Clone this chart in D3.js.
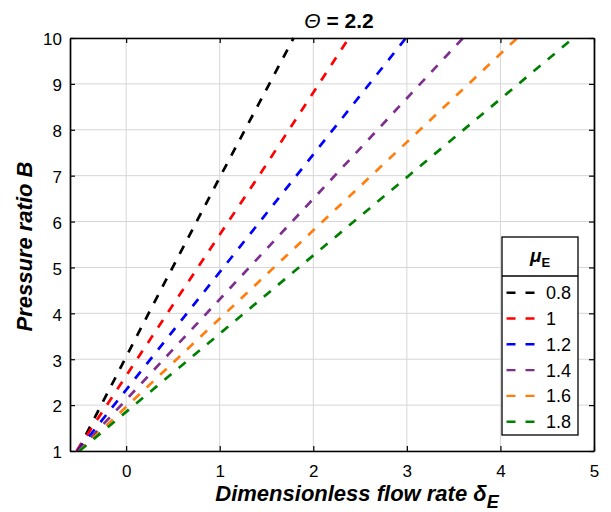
<!DOCTYPE html>
<html>
<head>
<meta charset="utf-8">
<script src="https://cdn.jsdelivr.net/npm/d3@7"></script>
<style>
  html, body { margin: 0; padding: 0; background: #fff; }
  svg text { font-family: "Liberation Sans", Arial, Helvetica, sans-serif; fill: #000; }
</style>
</head>
<body>
<svg id="chart" width="611" height="512"></svg>
<script>
// Pressure ratio B levels at which each curve's flow rate is sampled
const pressureLevels = [1, 4, 7, 10];

// Flow rate delta_E for each mu_E curve, at the pressure levels above
const muLabels = ["0.8", "1", "1.2", "1.4", "1.6", "1.8"];
const delta_mu08 = [-0.52, 0.24, 1.01, 1.79];
const delta_mu10 = [-0.53, 0.44, 1.42, 2.38];
const delta_mu12 = [-0.52, 0.65, 1.82, 2.99];
const delta_mu14 = [-0.51, 0.86, 2.23, 3.60];
const delta_mu16 = [-0.50, 1.06, 2.62, 4.18];
const delta_mu18 = [-0.50, 1.26, 3.02, 4.78];
const seriesColors = ["#000000", "#ff0000", "#0000ff", "#7e2f8e", "#ff7f0e", "#008000"];

const xTicks = [0, 1, 2, 3, 4, 5];
const yTicks = [1, 2, 3, 4, 5, 6, 7, 8, 9, 10];

const series = [delta_mu08, delta_mu10, delta_mu12, delta_mu14, delta_mu16, delta_mu18]
  .map((d, i) => ({
    label: muLabels[i],
    color: seriesColors[i],
    points: d.map((v, j) => ({ x: v, y: pressureLevels[j] }))
  }));

const svg = d3.select("#chart");
const plotLeft = 70, plotRight = 594, plotTop = 38, plotBottom = 451;

const x = d3.scaleLinear().domain([-0.6, 5]).range([plotLeft, plotRight]);
const y = d3.scaleLinear().domain([1, 10]).range([plotBottom, plotTop]);

// grid
const grid = svg.append("g");
grid.selectAll("line.vg").data(xTicks).enter().append("line")
  .attr("x1", d => x(d)).attr("x2", d => x(d))
  .attr("y1", plotTop).attr("y2", plotBottom)
  .attr("stroke", "#d6d6d6").attr("stroke-width", 1);
grid.selectAll("line.hg").data(yTicks).enter().append("line")
  .attr("x1", plotLeft).attr("x2", plotRight)
  .attr("y1", d => y(d)).attr("y2", d => y(d))
  .attr("stroke", "#d6d6d6").attr("stroke-width", 1);

// curves
svg.append("clipPath").attr("id", "plotClip")
  .append("rect").attr("x", plotLeft).attr("y", plotTop - 1)
  .attr("width", plotRight - plotLeft).attr("height", plotBottom - plotTop + 1);

const line = d3.line().x(d => x(d.x)).y(d => y(d.y));
svg.append("g").attr("clip-path", "url(#plotClip)")
  .selectAll("path").data(series).enter().append("path")
  .attr("d", d => line(d.points))
  .attr("fill", "none")
  .attr("stroke", d => d.color)
  .attr("stroke-width", 2.7)
  .attr("stroke-dasharray", "9,9.5");

// axes with inward ticks on all four sides
const tickLen = 5;
const axisBottom = svg.append("g").attr("transform", `translate(0,${plotBottom})`)
  .call(d3.axisBottom(x).tickValues(xTicks).tickFormat(d3.format("d"))
    .tickSizeInner(-tickLen).tickSizeOuter(0).tickPadding(14));
const axisTop = svg.append("g").attr("transform", `translate(0,${plotTop})`)
  .call(d3.axisTop(x).tickValues(xTicks).tickSizeInner(-tickLen).tickSizeOuter(0).tickFormat(""));
const axisLeft = svg.append("g").attr("transform", `translate(${plotLeft},0)`)
  .call(d3.axisLeft(y).tickValues(yTicks).tickFormat(d3.format("d"))
    .tickSizeInner(-tickLen).tickSizeOuter(0).tickPadding(8));
const axisRight = svg.append("g").attr("transform", `translate(${plotRight},0)`)
  .call(d3.axisRight(y).tickValues(yTicks).tickSizeInner(-tickLen).tickSizeOuter(0).tickFormat(""));

[axisBottom, axisTop, axisLeft, axisRight].forEach(g => {
  g.select(".domain").attr("stroke", "#000").attr("stroke-width", 1.7);
  g.selectAll(".tick line").attr("stroke", "#000").attr("stroke-width", 1.2);
  g.selectAll(".tick text").attr("font-size", 17)
    .attr("font-family", "'Liberation Sans', Arial, sans-serif").attr("fill", "#000");
});
axisBottom.selectAll(".tick text").attr("dy", "0.71em");
axisLeft.selectAll(".tick text").attr("dy", "0.4em");

// title
const title = svg.append("text").attr("x", 339).attr("y", 28)
  .attr("text-anchor", "middle").attr("font-size", 21).attr("font-weight", "bold");
title.append("tspan").attr("font-style", "italic").attr("font-weight", "normal").text("Θ");
title.append("tspan").text(" = 2.2");

// axis labels
const xl = svg.append("text").attr("x", 357).attr("y", 501)
  .attr("text-anchor", "middle").attr("font-size", 22)
  .attr("font-weight", "bold").attr("font-style", "italic");
xl.append("tspan").text("Dimensionless flow rate δ");
xl.append("tspan").attr("dy", 7).attr("font-size", 18).text("E");

svg.append("text")
  .attr("transform", `translate(32,${(plotTop + plotBottom) / 2 + 2}) rotate(-90)`)
  .attr("text-anchor", "middle").attr("font-size", 22)
  .attr("font-weight", "bold").attr("font-style", "italic")
  .text("Pressure ratio B");

// legend
const lg = svg.append("g");
const lgLeft = 502, lgRight = 578, lgTop = 237, lgBottom = 435, lgSep = 276;
lg.append("rect").attr("x", lgLeft).attr("y", lgTop)
  .attr("width", lgRight - lgLeft).attr("height", lgBottom - lgTop)
  .attr("fill", "#fff").attr("stroke", "#000").attr("stroke-width", 1.3);
lg.append("line").attr("x1", lgLeft).attr("x2", lgRight)
  .attr("y1", lgSep).attr("y2", lgSep).attr("stroke", "#000").attr("stroke-width", 1.3);
const lt = lg.append("text").attr("x", (lgLeft + lgRight) / 2).attr("y", 262)
  .attr("text-anchor", "middle").attr("font-size", 19)
  .attr("font-weight", "bold").attr("font-style", "italic");
lt.append("tspan").text("μ");
lt.append("tspan").attr("dy", 5).attr("font-size", 13).attr("font-style", "normal").text("E");

const rowY = d3.scaleLinear().domain([0, series.length - 1]).range([292.7, 421.7]);
const rows = lg.selectAll("g.row").data(series).enter().append("g")
  .attr("transform", (d, i) => `translate(0,${rowY(i)})`);
rows.append("line").attr("x1", 506.5).attr("x2", 535.5).attr("y1", 0).attr("y2", 0)
  .attr("stroke", d => d.color).attr("stroke-width", 2.4).attr("stroke-dasharray", "9,10");
rows.append("text").attr("x", 546).attr("y", 0).attr("dy", "0.36em")
  .attr("font-size", 18).text(d => d.label);
</script>
</body>
</html>
